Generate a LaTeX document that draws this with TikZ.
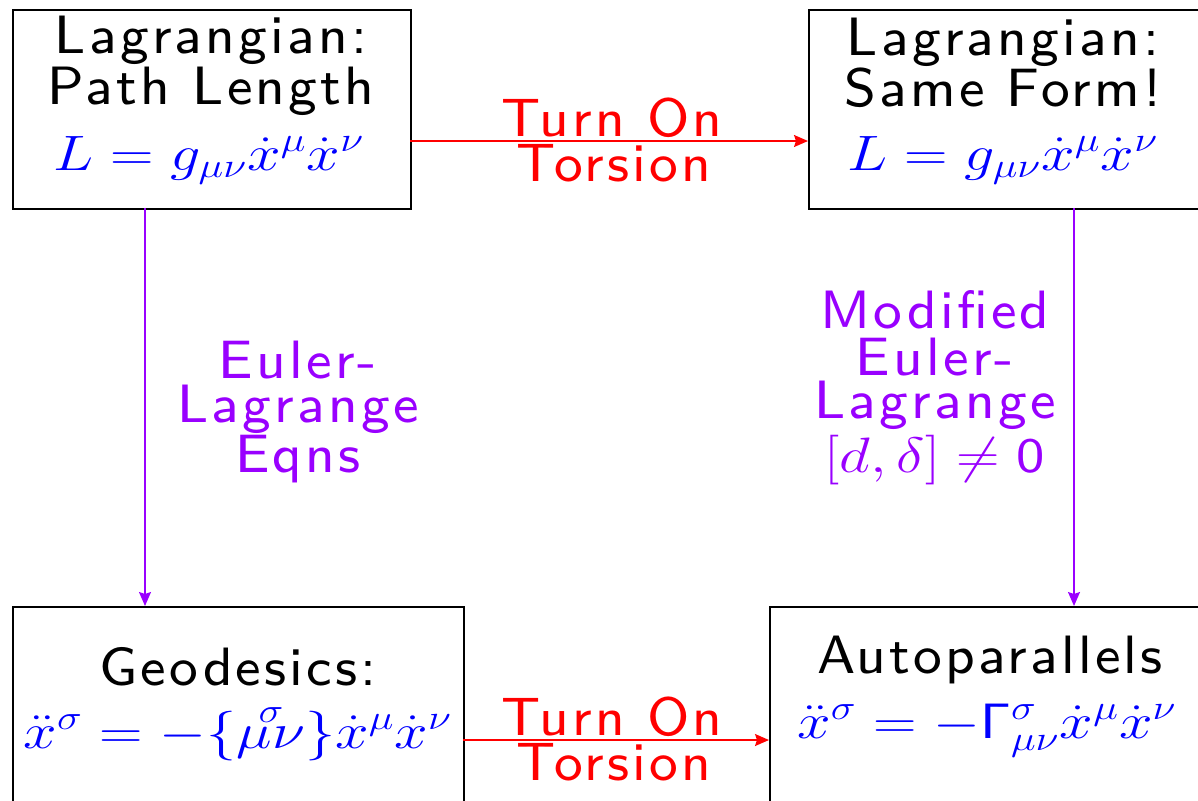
\documentclass[tikz,border=0pt]{standalone}
\usepackage[no-math]{fontspec}
\usetikzlibrary{arrows.meta}
\newfontfamily\wsf{lmsans8-regular.otf}[LetterSpace=6]
\definecolor{vio}{RGB}{153,0,255}
\newcommand{\beq}{\mathrel{\mathbf{=}}}
\newcommand{\mstr}[1]{\scalebox{1.21}[1]{$#1$}}
\begin{document}
\begin{tikzpicture}[x=0.5pt,y=-0.5pt,
  box/.style={draw=black,line width=1pt,rectangle,inner sep=0pt,anchor=north west},
  txt/.style={anchor=base,inner sep=0pt,font=\fontsize{27}{32}\selectfont\wsf},
  mth/.style={anchor=base,inner sep=0pt,font=\fontsize{25}{30}\selectfont,text=blue},
  lab/.style={txt},
  red arrow/.style={draw=red,line width=0.8pt,-{Stealth[length=7pt,width=6pt,inset=1pt]}},
  vio arrow/.style={draw=vio,line width=0.8pt,-{Stealth[length=7pt,width=6pt,inset=1pt]}}]
\useasboundingbox (0,0) rectangle (1198,800);
% boxes
\node[box,minimum width=199pt,minimum height=99.5pt] (tl) at (12,9) {};
\node[box,minimum width=196pt,minimum height=99.5pt] (tr) at (808,9) {};
\node[box,minimum width=225.5pt,minimum height=120pt] (bl) at (12,606) {};
\node[box,minimum width=216pt,minimum height=120pt] (br) at (769,606) {};
% box texts
\node[txt] (tl1) at (211,53) {Lagrangian:};
\node[txt] (tl2) at (211,104) {Path Length};
\node[mth] (tl3) at (209,170) {\mstr{L \beq g_{\mu\nu}\dot{x}^{\mu}\dot{x}^{\nu}}};
\node[txt] (tr1) at (1003,55) {Lagrangian:};
\node[txt] (tr2) at (1003,106) {Same Form!};
\node[mth] (tr3) at (1003,170) {\mstr{L \beq g_{\mu\nu}\dot{x}^{\mu}\dot{x}^{\nu}}};
\node[txt] (bl1) at (238,685) {Geodesics:};
\node[mth] (bl2) at (238,748) {\mstr{\ddot{x}^{\sigma} \beq -\{\stackrel{\sigma}{\mu\nu}\}\dot{x}^{\mu}\dot{x}^{\nu}}};
\node[txt] (br1) at (990,673) {Autoparallels};
\node[mth] (br2) at (987,738) {\mstr{\ddot{x}^{\sigma} \beq -\mathsf{\Gamma}^{\sigma}_{\mu\nu}\dot{x}^{\mu}\dot{x}^{\nu}}};
% connectors
\coordinate (a1) at (410,141);
\coordinate (a2) at (808,141);
\draw[red arrow] (a1) -- (a2);
\coordinate (b1) at (463,740);
\coordinate (b2) at (769,740);
\draw[red arrow] (b1) -- (b2);
\coordinate (c1) at (145,208);
\coordinate (c2) at (145,606);
\draw[vio arrow] (c1) -- (c2);
\coordinate (d1) at (1074,208);
\coordinate (d2) at (1074,606);
\draw[vio arrow] (d1) -- (d2);
% labels
\node[lab,text=red] (t1) at (612,136) {Turn On};
\node[lab,text=red] (t2) at (614,181) {Torsion};
\node[lab,text=red] (t3) at (612,735) {Turn On};
\node[lab,text=red] (t4) at (614,780) {Torsion};
\node[lab,text=vio] (e1) at (298,378) {Euler-};
\node[lab,text=vio] (e2) at (298,422) {Lagrange};
\node[lab,text=vio] (e3) at (298,472) {Eqns};
\node[lab,text=vio] (m1) at (935,328) {Modified};
\node[lab,text=vio] (m2) at (935,375) {Euler-};
\node[lab,text=vio] (m3) at (935,418) {Lagrange};
\node[mth,text=vio] (m4) at (935,472) {\mstr{[d,\delta]\neq\mathsf{0}}};
\end{tikzpicture}
\end{document}
